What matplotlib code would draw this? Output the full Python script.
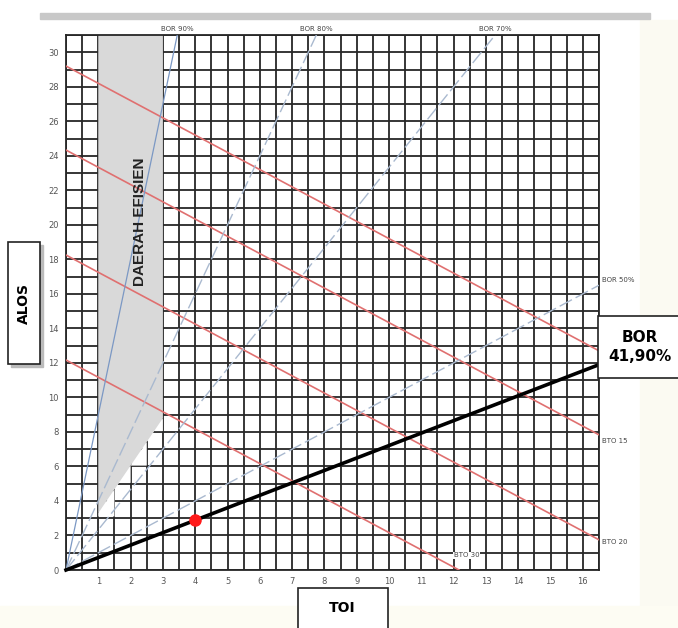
import numpy as np
import matplotlib.pyplot as plt
from matplotlib.patches import Polygon, Rectangle

# --- DATA ---
bor_lines = [90, 80, 70, 50]          # BOR reference lines (%)
bto_lines = [12.5, 15, 20, 30]         # BTO reference lines
bor_actual = 41.90                     # hospital BOR (%)
toi_point = [4.0]
alos_point = [2.88]
x_ticks = list(range(1, 17))
y_ticks = list(range(0, 31, 2))
efficient_area = [(1, 31), (3, 31), (3, 8.8), (1, 3.3)]
stair_area = [(1, 3.1), (1.5, 3.1), (1.5, 5.05), (2, 5.05), (2, 6.05), (2.5, 6.05),
              (2.5, 8.05), (3, 8.05), (3, 8.8), (1, 3.3)]

XMAX, YMAX = 16.5, 31

fig = plt.figure(figsize=(6.78, 6.28), dpi=100)
fig.patch.set_facecolor('white')

# faint background outside the chart panel + shadow at top
fig.patches.append(Rectangle((640 / 678, 0), 38 / 678, 1 - 20 / 628,
                             transform=fig.transFigure, color='#fbfaf2', zorder=0))
fig.patches.append(Rectangle((0, 0), 1, 22 / 628,
                             transform=fig.transFigure, color='#fdfcf3', zorder=0))
fig.patches.append(Rectangle((40 / 678, 1 - 19 / 628), 610 / 678, 6 / 628,
                             transform=fig.transFigure, color='#c8c8c8', zorder=0))

ax = fig.add_axes([66 / 678, 58 / 628, 533 / 678, 535 / 628])
ax.set_xlim(0, XMAX)
ax.set_ylim(0, YMAX)

# grid
ax.set_xticks(x_ticks)
ax.set_xticks(np.arange(0, XMAX + 0.01, 0.5), minor=True)
ax.set_yticks(y_ticks)
ax.set_yticks(np.arange(0, YMAX + 0.01, 1), minor=True)
ax.grid(which='both', color='#262626', linewidth=1.3, zorder=0)
ax.set_axisbelow(True)
ax.tick_params(which='both', length=0)
ax.tick_params(axis='both', labelsize=6, labelcolor='#555555', pad=5)
for s in ax.spines.values():
    s.set_color('#262626')
    s.set_linewidth(1.3)

# efficient area
ax.add_patch(Polygon(stair_area, closed=True, facecolor='white', edgecolor='none', zorder=1))
ax.add_patch(Polygon(efficient_area, closed=True, facecolor='#d9d9d9', edgecolor='none', zorder=2))
ax.text(2.3, 20.2, 'DAERAH EFISIEN', rotation=90, ha='center', va='center',
        fontsize=11, fontweight='bold', color='#222222', family='Liberation Sans', zorder=6)

# BTO lines
for bto in bto_lines:
    k = 365 / bto
    ax.plot([0, k], [k, 0], color='#e07070', linewidth=1.2, zorder=3)

# BOR lines
xs = np.array([0, XMAX])
for bor in bor_lines:
    slope = bor / (100 - bor)
    if bor == 90:
        ax.plot(xs, xs * slope, color='#7b98c4', linewidth=0.9, zorder=4)
    else:
        ax.plot(xs, xs * slope, color='#a9b9cf', linewidth=1.0,
                dashes=(10, 3), zorder=4)

slope = bor_actual / (100 - bor_actual)
ax.plot(xs, xs * slope, color='black', linewidth=2.6, zorder=5, clip_on=False)
ax.plot(toi_point, alos_point, 'o', color='#ff1a1a', markersize=8, zorder=6)

# small labels
lab_kw = dict(fontsize=5, color='#444444')
for bor in [90, 80, 70]:
    x_top = YMAX * (100 - bor) / bor
    ax.text(x_top, YMAX + 0.2, f'BOR {bor}%', ha='center', va='bottom', clip_on=False, **lab_kw)
ax.text(XMAX + 0.1, XMAX + 0.3, 'BOR 50%', ha='left', va='center', **lab_kw)
ax.text(XMAX + 0.1, 365 / 15 - XMAX - 0.35, 'BTO 15', ha='left', va='center', **lab_kw)
ax.text(XMAX + 0.1, 365 / 20 - XMAX - 0.1, 'BTO 20', ha='left', va='center', **lab_kw)
ax.text(12.4, 0.85, 'BTO 30', ha='center', va='center', zorder=7,
        bbox=dict(facecolor='white', edgecolor='none', pad=0.5), **lab_kw)


# axis title boxes
def fig_box(x0, y0, x1, y1, shadow=True):
    fx0, fx1 = x0 / 678, x1 / 678
    fy0, fy1 = 1 - y1 / 628, 1 - y0 / 628
    if shadow:
        fig.patches.append(Rectangle((fx0 + 3 / 678, fy0 - 3 / 628), fx1 - fx0, fy1 - fy0,
                                     transform=fig.transFigure, color='#bbbbbb', zorder=8))
    fig.patches.append(Rectangle((fx0, fy0), fx1 - fx0, fy1 - fy0, transform=fig.transFigure,
                                 facecolor='white', edgecolor='#222222', linewidth=1.2, zorder=9))


fig_box(8, 242, 40, 364)
fig.text(24 / 678, 1 - 303 / 628, 'ALOS', rotation=90, ha='center', va='center',
         fontsize=10, fontweight='bold', zorder=10)

fig_box(298, 588, 388, 640, shadow=False)
fig.text(342 / 678, 1 - 608 / 628, 'TOI', ha='center', va='center',
         fontsize=10, fontweight='bold', zorder=10)

fig_box(598, 316, 690, 378, shadow=False)
fig.text(640 / 678, 1 - 347 / 628, 'BOR\n41,90%', ha='center', va='center',
         fontsize=11, fontweight='bold', linespacing=1.3, zorder=10)

fig.savefig('out.png', dpi=100)
